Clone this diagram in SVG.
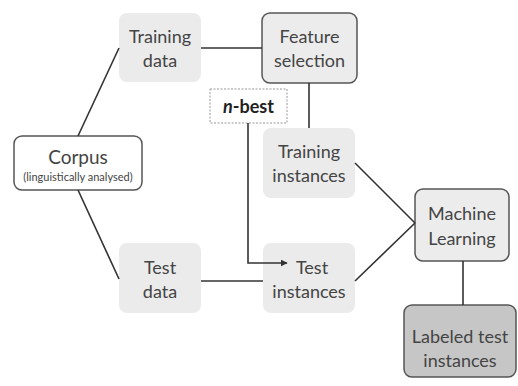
<svg xmlns="http://www.w3.org/2000/svg" width="518" height="386" viewBox="0 0 518 386">
<style>
text{font-family:"Lato","Open Sans","Liberation Sans",sans-serif;fill:#444;text-anchor:middle;font-size:18px}
.soft{fill:#ebebeb;stroke:none}
.frame{fill:#ececec;stroke:#555;stroke-width:1.5}
.white{fill:#fff;stroke:#555;stroke-width:1.5}
.dark{fill:#c6c6c6;stroke:#555;stroke-width:1.5}
.conn{stroke:#333;stroke-width:1.6;fill:none}
.small{font-size:11px}
</style>
<defs>
<marker id="arr" viewBox="0 0 10 10" refX="9" refY="5" markerWidth="7" markerHeight="7" orient="auto" markerUnits="userSpaceOnUse">
<path d="M0,0 L10,5 L0,10 z" fill="#333"/>
</marker>
</defs>
<rect width="518" height="386" fill="#fff"/>
<g id="corpus">
<rect class="white" x="14" y="136" width="128" height="54" rx="8"/>
<text x="78" y="164" style="font-size:19px">Corpus</text>
<text class="small" x="78" y="181">(linguistically analysed)</text>
</g>
<g id="training-data">
<rect class="soft" x="119" y="13" width="82" height="69" rx="8"/>
<text x="160" y="43">Training</text>
<text x="160" y="67">data</text>
</g>
<g id="test-data">
<rect class="soft" x="119" y="243" width="82" height="70" rx="8"/>
<text x="160" y="274">Test</text>
<text x="160" y="298">data</text>
</g>
<g id="feature-selection">
<rect class="frame" x="262" y="13" width="95" height="70" rx="8"/>
<text x="309.5" y="43">Feature</text>
<text x="309.5" y="67">selection</text>
</g>
<g id="n-best">
<rect x="210" y="89" width="77" height="34" fill="#fff" stroke="#999" stroke-width="1" stroke-dasharray="2,1.5"/>
<text x="248.5" y="113" style="font-weight:bold;fill:#222"><tspan font-style="italic">n</tspan>-best</text>
</g>
<g id="training-instances">
<rect class="soft" x="263" y="128" width="92" height="70" rx="8"/>
<text x="309" y="158">Training</text>
<text x="309" y="182">instances</text>
</g>
<g id="test-instances">
<rect class="soft" x="263" y="243" width="92" height="70" rx="8"/>
<text x="312" y="274">Test</text>
<text x="309" y="298">instances</text>
</g>
<g id="machine-learning">
<rect class="frame" x="415" y="189" width="94" height="72" rx="8"/>
<text x="462" y="220">Machine</text>
<text x="462" y="245">Learning</text>
</g>
<g id="labeled-test-instances">
<rect class="dark" x="404" y="305" width="112" height="72" rx="8"/>
<text x="460" y="343">Labeled test</text>
<text x="460" y="367">instances</text>
</g>
<g id="connectors">
<line class="conn" x1="78" y1="136" x2="119" y2="48"/>
<line class="conn" x1="78" y1="190" x2="119" y2="279"/>
<line class="conn" x1="201" y1="48" x2="262" y2="48"/>
<line class="conn" x1="309" y1="83" x2="309" y2="128"/>
<line class="conn" x1="201" y1="281" x2="263" y2="281"/>
<line class="conn" x1="355" y1="163" x2="415" y2="223"/>
<line class="conn" x1="355" y1="281" x2="415" y2="223"/>
<line class="conn" x1="463" y1="261" x2="463" y2="305"/>
<polyline class="conn" points="248,123 248,263 287,263" marker-end="url(#arr)"/>
</g>
</svg>
